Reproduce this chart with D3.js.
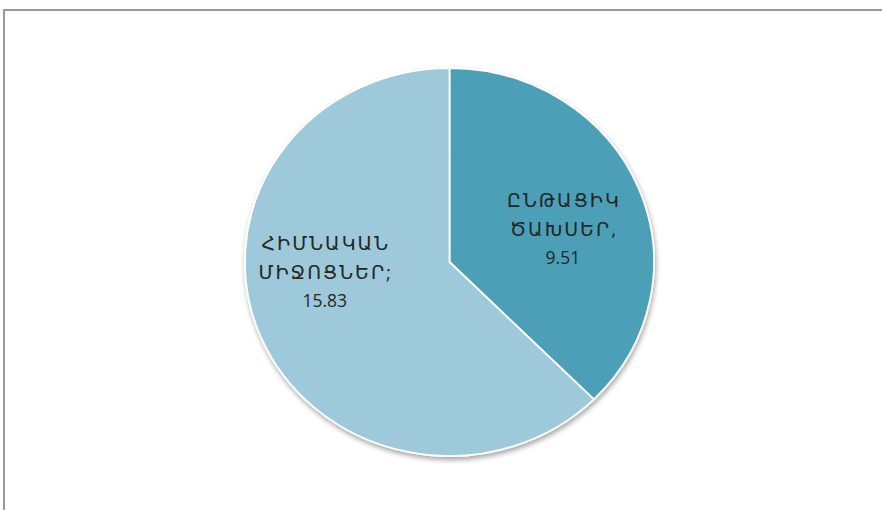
<!DOCTYPE html>
<html><head><meta charset="utf-8">
<script src="https://cdn.jsdelivr.net/npm/d3@7"></script>
<style>html,body{margin:0;padding:0;background:#fff;}svg{display:block;}</style>
</head><body>
<svg id="chart" width="882" height="510"></svg>
<script>
const categories = ["ԸՆԹԱՑԻԿ ԾԱԽՍԵՐ", "ՀԻՄՆԱԿԱՆ ՄԻՋՈՑՆԵՐ"];
const values = [9.51, 15.83];
const labelLines = [["ԸՆԹԱՑԻԿ", "ԾԱԽՍԵՐ,", "9.51"], ["ՀԻՄՆԱԿԱՆ", "ՄԻՋՈՑՆԵՐ;", "15.83"]];
const colors = ["#4ba0b7", "#9dc9da"];

const W = 882, H = 510;
const cx = 449.5, cy = 262, rx = 204.5, ry = 194;
const svg = d3.select("#chart");

// frame
svg.append("path").attr("d", `M4,${H} L4,10 L${W},10`)
  .attr("fill", "none").attr("stroke", "#9a9a9a").attr("stroke-width", 2);

const defs = svg.append("defs");
const f = defs.append("filter").attr("id", "sh").attr("x", "-20%").attr("y", "-20%").attr("width", "140%").attr("height", "140%");
f.append("feDropShadow").attr("dx", 1).attr("dy", 3).attr("stdDeviation", 2.5)
  .attr("flood-color", "#000").attr("flood-opacity", 0.35);

const pie = d3.pie().sort(null).value(d => d)(values);
const arc = d3.arc().innerRadius(0).outerRadius(1);
const g = svg.append("g").attr("filter", "url(#sh)");
const gp = g.append("g").attr("transform", `translate(${cx},${cy}) scale(${rx},${ry})`);
gp.selectAll("path").data(pie).join("path")
  .attr("d", arc)
  .attr("fill", (d, i) => colors[i])
  .attr("stroke", "#fff").attr("stroke-width", 1.8)
  .attr("vector-effect", "non-scaling-stroke");

// labels: placed along slice mid-angle
const labelR = [0.6, 0.66];
const labelDy = [18, -32];
const lineH = 28.5;
pie.forEach((d, i) => {
  const a = (d.startAngle + d.endAngle) / 2;
  const x = cx + Math.sin(a) * rx * labelR[i];
  const y = cy - Math.cos(a) * ry * labelR[i] + labelDy[i];
  const t = svg.append("text").attr("text-anchor", "middle")
    .attr("font-family", "'Open Sans','DejaVu Sans',sans-serif")
    .attr("font-size", 17.5).attr("fill", "#262626");
  const lines = labelLines[i];
  lines.forEach((ln, j) => {
    const isNum = j === lines.length - 1;
    t.append("tspan").attr("x", x + (isNum ? 0 : 1))
      .attr("y", y + (j - (lines.length - 1) / 2) * lineH)
      .attr("font-size", isNum ? 17.5 : 19)
      .attr("letter-spacing", isNum ? 0 : 2)
      .text(ln);
  });
});
</script>
</body></html>
